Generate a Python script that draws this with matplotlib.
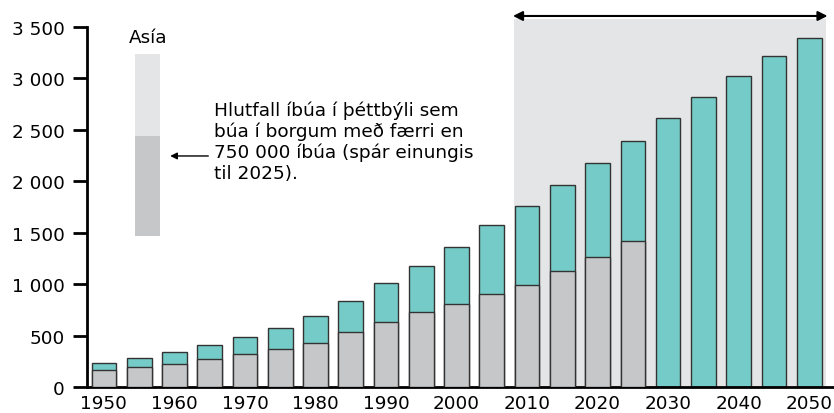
import matplotlib.pyplot as plt
from matplotlib.patches import Rectangle
from matplotlib.ticker import FuncFormatter

# Íbúar í þéttbýli í Asíu (milljónir)
ar = [1950, 1955, 1960, 1965, 1970, 1975, 1980, 1985, 1990, 1995, 2000,
      2005, 2010, 2015, 2020, 2025, 2030, 2035, 2040, 2045, 2050]
alls = [230, 279, 337, 408, 483, 570, 687, 839, 1008, 1179, 1364,
        1572, 1763, 1967, 2178, 2390, 2612, 2819, 3027, 3218, 3393]
# borgir með færri en 750 000 íbúa (aðeins til 2025)
smaerri = [162, 191, 221, 269, 318, 366, 431, 531, 635, 732, 807,
           904, 992, 1125, 1264, 1416]

teal = '#74cbc8'
grar = '#c6c7c9'
ljos = '#e4e5e7'

fig = plt.figure(figsize=(8.34, 4.14), dpi=100)
ax = fig.add_axes([0.1043, 0.0628, 0.8947, 0.8696])

# spátímabil
ax.add_patch(Rectangle((2008.2, 0), 44.2, 3578, facecolor=ljos,
                       edgecolor='none', zorder=0, clip_on=False))
ax.annotate('', xy=(2052.6, 3607), xytext=(2008.0, 3607),
            arrowprops=dict(arrowstyle='<|-|>', color='black', lw=1.5,
                            mutation_scale=14, shrinkA=0, shrinkB=0),
            annotation_clip=False)

ax.bar(ar, alls, width=3.5, color=teal, edgecolor='#333333', linewidth=1, zorder=2)
ax.bar(ar[:len(smaerri)], smaerri, width=3.5, color=grar, edgecolor='#333333',
       linewidth=1, zorder=3)

# skýring
ax.text(1956.2, 3400, 'Asía', ha='center', va='center', fontsize=13.2)
ax.add_patch(Rectangle((1954.4, 2440), 3.6, 797, facecolor=ljos, edgecolor='none'))
ax.add_patch(Rectangle((1954.4, 1468), 3.6, 972, facecolor=grar, edgecolor='none'))
ax.annotate('', xy=(1959.4, 2246), xytext=(1964.8, 2246),
            arrowprops=dict(arrowstyle='-|>', color='black', lw=1,
                            mutation_scale=10, shrinkA=0, shrinkB=0))
ax.text(1965.6, 2790,
        'Hlutfall íbúa í þéttbýli sem\nbúa í borgum með færri en\n'
        '750 000 íbúa (spár einungis\ntil 2025).',
        ha='left', va='top', fontsize=13.3, linespacing=1.2)

ax.set_xlim(1947.6, 2053.4)
ax.set_ylim(0, 3500)
ax.set_xticks(range(1950, 2051, 10))
ax.set_yticks(range(0, 3501, 500))
ax.yaxis.set_major_formatter(FuncFormatter(lambda v, p: f'{int(v):,}'.replace(',', ' ')))

for s in ['top', 'right']:
    ax.spines[s].set_visible(False)
ax.spines['left'].set_linewidth(2)
ax.spines['bottom'].set_linewidth(2)
ax.tick_params(axis='y', length=10, width=2, pad=6, labelsize=13.2)
ax.tick_params(axis='x', length=0, pad=5, labelsize=13.2)

plt.savefig('out.png', dpi=100)
